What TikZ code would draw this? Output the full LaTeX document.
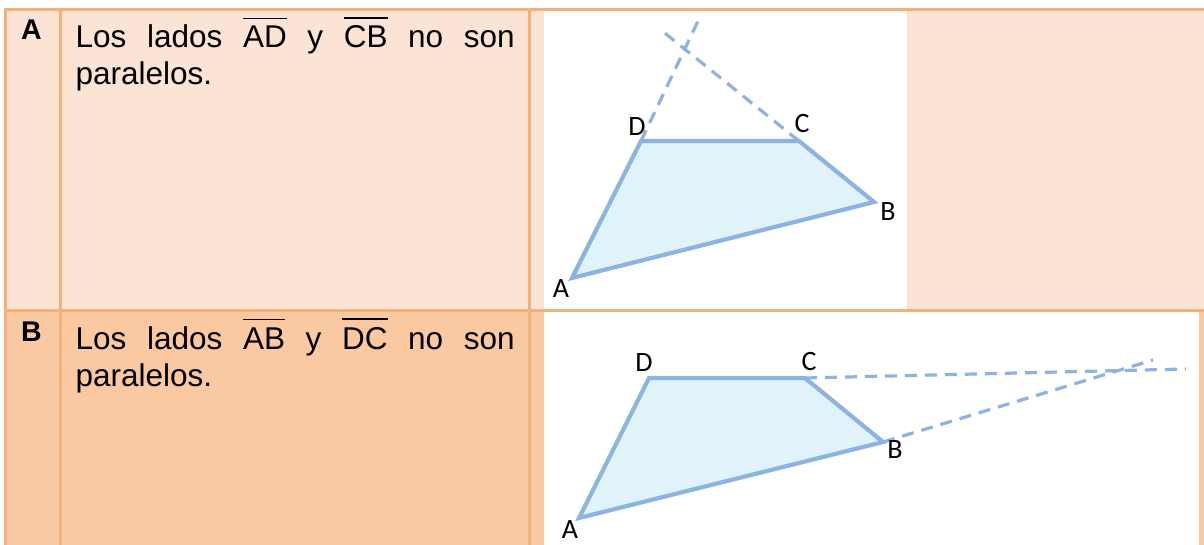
\documentclass[tikz,border=0pt]{standalone}
\usepackage{fontspec}
\setmainfont{Liberation Sans}
\newfontfamily\lblfont{Carlito}
\definecolor{peachA}{HTML}{FCE4D4}
\definecolor{peachB}{HTML}{FAC9A2}
\definecolor{gridc}{HTML}{F6B07A}
\definecolor{quadline}{HTML}{8DB3E2}
\definecolor{quadfill}{HTML}{E1F3FA}
\newcommand\segover[1]{\leavevmode\hbox{\vbox{\hrule height 1.3pt\vskip 7.5pt\hbox{#1}}}}
\tikzset{
  gridline/.style={draw=gridc, line width=3pt},
  bodytext/.style={anchor=base west, inner sep=0pt, font=\fontsize{31.5}{37}\selectfont},
  rowlabel/.style={anchor=base west, inner sep=0pt, font=\fontsize{28.5}{32}\selectfont\bfseries},
  quad/.style={draw=quadline, fill=quadfill, line width=4.2pt, line join=miter},
  extline/.style={draw=quadline, line width=3.2pt, dash pattern=on 12pt off 8pt},
  vlabel/.style={inner sep=0pt, font=\lblfont\fontsize{28}{32}\selectfont}
}
\begin{document}
\begin{tikzpicture}[x=1pt,y=-1pt]
\useasboundingbox (0,0) rectangle (1204,545);
% backgrounds
\fill[white] (0,0) rectangle (1204,545);
\fill[peachA] (4,8) rectangle (1204,310.5);
\fill[peachB] (4,310.5) rectangle (1204,545);
\fill[white] (544,11) rectangle (907,309);
\fill[white] (544,312) rectangle (1199,545);
% grid lines
\draw[gridline] (4,9.5) -- (1204,9.5);
\draw[gridline] (5.5,8) -- (5.5,545);
\draw[gridline] (60.5,8) -- (60.5,545);
\draw[gridline] (529.5,8) -- (529.5,545);
\draw[gridline] (4,310.5) -- (1204,310.5);

% row A text
\node[rowlabel] (labA) at (21,40) {A};
\node[bodytext] (txtA1) at (75.5,48) {\makebox[439pt][s]{Los lados \segover{AD} y \segover{CB} no son}};
\node[bodytext] (txtA2) at (75.5,85) {paralelos.};
% row B text
\node[rowlabel] (labB) at (21,341) {B};
\node[bodytext] (txtB1) at (75.5,349) {\makebox[439pt][s]{Los lados \segover{AB} y \segover{DC} no son}};
\node[bodytext] (txtB2) at (75.5,386) {paralelos.};

% figure A
\coordinate (A1) at (572,278);
\coordinate (B1) at (874,202);
\coordinate (C1) at (799,141);
\coordinate (D1) at (641,141);
\coordinate (EAD1) at (699,19);
\coordinate (ECB1) at (661,30);
\draw[extline] (D1) -- (EAD1);
\draw[extline] (C1) -- (ECB1);
\filldraw[quad] (A1) -- (B1) -- (C1) -- (D1) -- cycle;
\node[vlabel] (lA1) at (561,289) {A};
\node[vlabel] (lB1) at (888,212) {B};
\node[vlabel] (lC1) at (802,124) {C};
\node[vlabel] (lD1) at (637,127) {D};

% figure B
\coordinate (A2) at (579,518);
\coordinate (B2) at (883,442);
\coordinate (C2) at (805,378);
\coordinate (D2) at (649,378);
\coordinate (EDC2) at (1186,369);
\coordinate (EAB2) at (1153,360);
\draw[extline] (C2) -- (EDC2);
\draw[extline] (B2) -- (EAB2);
\filldraw[quad] (A2) -- (B2) -- (C2) -- (D2) -- cycle;
\node[vlabel] (lA2) at (570,530) {A};
\node[vlabel] (lB2) at (895,450) {B};
\node[vlabel] (lC2) at (809,362) {C};
\node[vlabel] (lD2) at (644,363) {D};
\end{tikzpicture}
\end{document}
